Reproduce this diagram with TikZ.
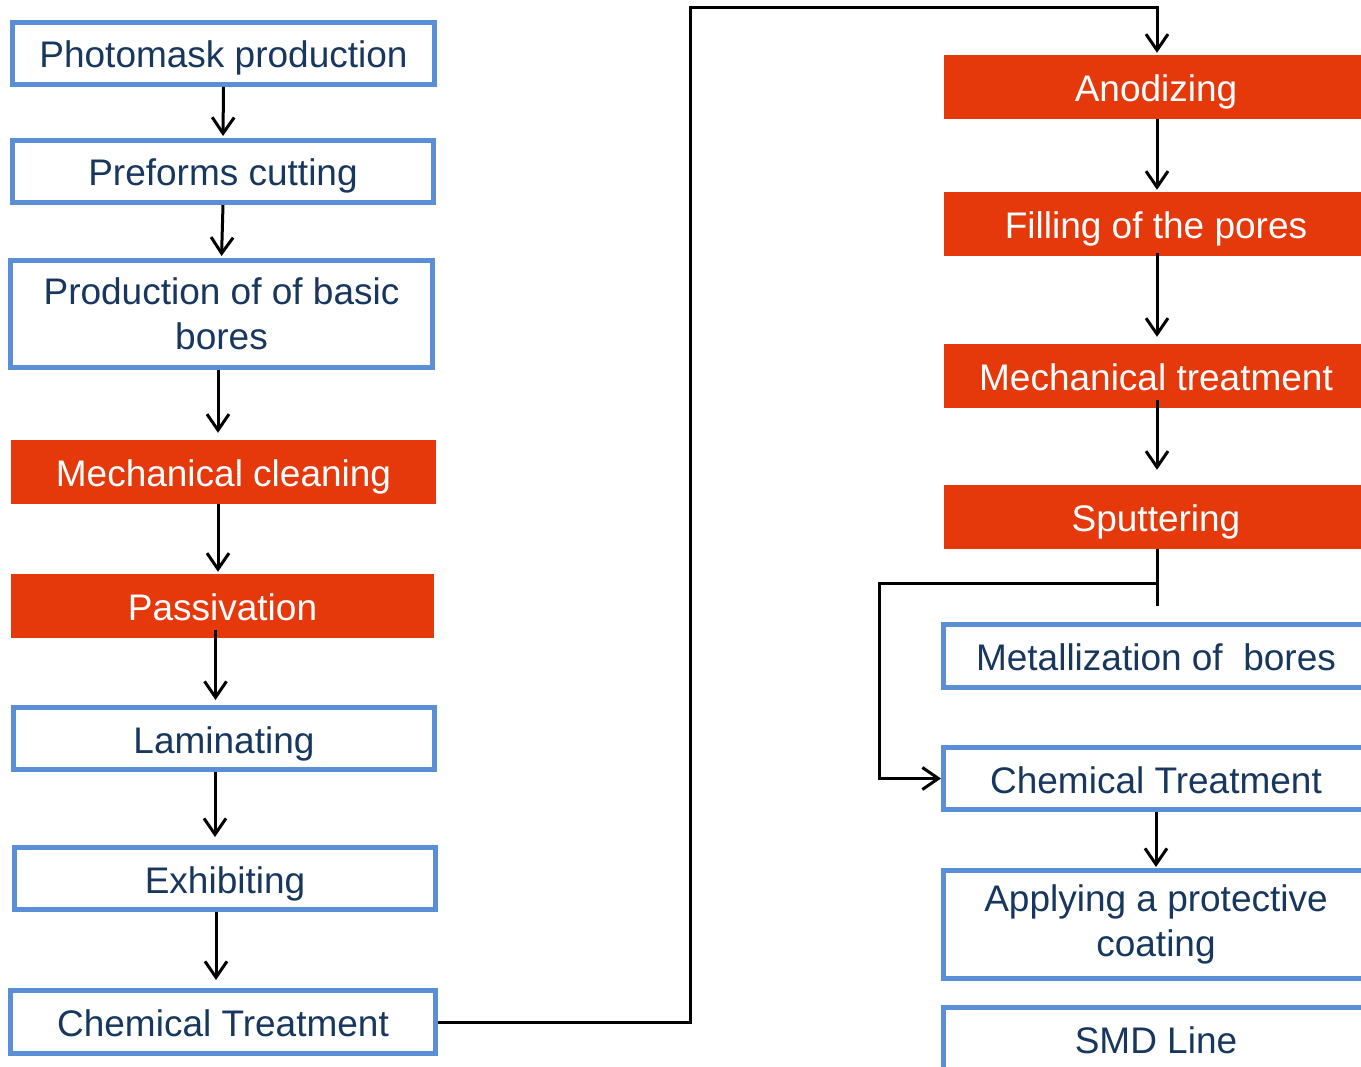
\documentclass[tikz,border=0pt]{standalone}
\usepackage{fontspec}
\setmainfont{Liberation Sans}
\usetikzlibrary{arrows.meta}
\definecolor{boxblue}{HTML}{5A8ED6}
\definecolor{procred}{HTML}{E5390B}
\definecolor{textblue}{HTML}{17375E}
\begin{document}
\begin{tikzpicture}[x=1pt,y=-1pt,
  font=\fontsize{37}{45}\selectfont,
  bluebox/.style={draw=boxblue,line width=5pt,fill=white,text=textblue,
    minimum width=422pt,minimum height=62pt,inner sep=0pt,align=center},
  redbox/.style={fill=procred,text=white,minimum width=424pt,
    minimum height=64pt,inner sep=0pt,oneline},
  oneline/.style={text height=35pt,text depth=6pt},
  flow/.style={line width=3pt,-{Straight Barb[length=16pt,width=22pt]}},
  link/.style={line width=3pt}]
\useasboundingbox (0,0) rectangle (1361,1067);
\clip (0,0) rectangle (1361,1067);
\fill[white] (0,0) rectangle (1361,1067);
% left column
\node[bluebox,oneline] (photo) at (223.5,53.5) {Photomask production};
\node[bluebox,oneline,minimum width=421pt] (pref) at (223,171.5) {Preforms cutting};
\node[bluebox,minimum height=107pt] (prod) at (221.5,314) {Production of of basic\\bores};
\node[redbox,minimum width=425pt] (mclean) at (223.5,472) {Mechanical cleaning};
\node[redbox,minimum width=423pt] (pass) at (222.5,606) {Passivation};
\node[bluebox,oneline,minimum width=421pt] (lam) at (224,738.5) {Laminating};
\node[bluebox,oneline,minimum width=421pt] (exh) at (225,878.5) {Exhibiting};
\node[bluebox,oneline,minimum width=425pt,minimum height=63pt] (lchem) at (223,1022) {Chemical Treatment};
% right column
\node[redbox] (anod) at (1156,87) {Anodizing};
\node[redbox] (fill) at (1156,224) {Filling of the pores};
\node[redbox] (mtreat) at (1156,376) {Mechanical treatment};
\node[redbox] (sput) at (1156,517) {Sputtering};
\node[bluebox,oneline,minimum width=425pt,minimum height=63pt] (metal) at (1156,656) {Metallization of~ bores};
\node[bluebox,oneline,minimum width=425pt] (rchem) at (1156,778.5) {Chemical Treatment};
\node[bluebox,minimum width=425pt,minimum height=108pt] (apply) at (1156,924.5) {Applying a protective\\coating};
\node[bluebox,oneline,minimum width=425pt] (smd) at (1156,1038.5) {SMD Line};
% corners
\coordinate (top) at (690,8);
\coordinate (split) at (1157,583);
\coordinate (loop) at (879,778.5);
% arrows
\draw[flow,shorten >=2pt] (photo.south) -- (pref.north);
\draw[flow,shorten >=2pt] (pref.south) -- (prod.north);
\draw[flow,shorten >=7pt] ([xshift=-3.5pt]prod.south) -- ([xshift=-3.5pt]prod.south |- mclean.north);
\draw[flow,shorten >=2pt] ([xshift=-5.5pt]mclean.south) -- ([xshift=-5.5pt]mclean.south |- pass.north);
\draw[flow,shorten <=-8pt,shorten >=5pt] ([xshift=-7pt]pass.south) -- ([xshift=-7pt]pass.south |- lam.north);
\draw[flow,shorten >=8pt] ([xshift=-9pt]lam.south) -- ([xshift=-9pt]lam.south |- exh.north);
\draw[flow,shorten >=8pt] ([xshift=-9pt]exh.south) -- ([xshift=-9pt]exh.south |- lchem.north);
\draw[flow,shorten >=2pt] (lchem.east) -| (top) -| ([xshift=1pt]anod.north);
\draw[flow,shorten >=2pt] ([xshift=1pt]anod.south) -- ([xshift=1pt]fill.north);
\draw[flow,shorten <=-3pt,shorten >=7pt] ([xshift=1pt]fill.south) -- ([xshift=1pt]mtreat.north);
\draw[flow,shorten <=-8pt,shorten >=15pt] ([xshift=1pt]mtreat.south) -- ([xshift=1pt]sput.north);
\draw[link] ([xshift=1pt]sput.south) -- ++(0,57);
\draw[flow] (split) -| (loop) -- (rchem.west);
\draw[flow,shorten >=1pt] (rchem.south) -- (apply.north);
\end{tikzpicture}
\end{document}
